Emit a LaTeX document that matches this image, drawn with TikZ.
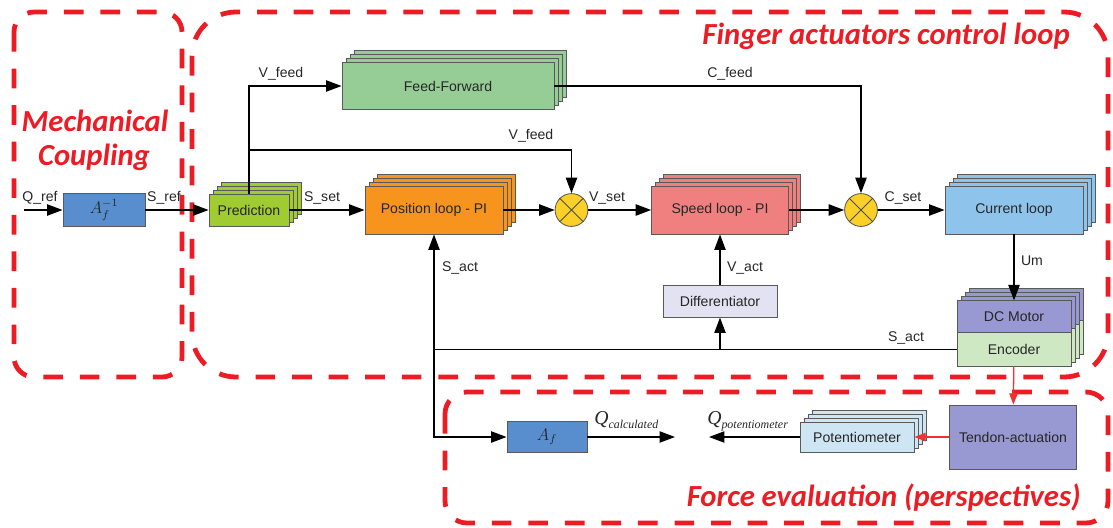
\documentclass[tikz,border=0pt]{standalone}
\usepackage{fontspec}
\setmainfont{Liberation Sans}
\newfontfamily\titlefont{Carlito}
\newfontfamily\timesfont{Liberation Serif}
\usepackage{xcolor}
\usetikzlibrary{positioning,shadows,arrows.meta}

\definecolor{loopred}{RGB}{237,28,36}
\definecolor{ablue}{RGB}{88,142,206}
\definecolor{predgreen}{RGB}{160,204,50}
\definecolor{posorange}{RGB}{247,148,30}
\definecolor{speedpink}{RGB}{240,128,128}
\definecolor{curblue}{RGB}{142,196,236}
\definecolor{ffgreen}{RGB}{150,205,150}
\definecolor{difflav}{RGB}{226,226,242}
\definecolor{motorpurple}{RGB}{152,152,210}
\definecolor{encgreen}{RGB}{206,232,196}
\definecolor{potblue}{RGB}{206,230,244}
\definecolor{sumyellow}{RGB}{250,208,40}
\definecolor{arrowred}{RGB}{238,50,50}

\tikzset{
  block/.style={draw=black!65, line width=0.6pt, inner sep=0pt, font=\fontsize{10}{12}\selectfont, text=black!85},
  stacked/.style={copy shadow={shadow xshift=0.3cm, shadow yshift=0.3cm},
                  copy shadow={shadow xshift=0.2cm, shadow yshift=0.2cm},
                  copy shadow={shadow xshift=0.1cm, shadow yshift=0.1cm}},
  summer/.style={circle, draw=black!65, line width=0.6pt, fill=sumyellow, minimum size=0.82cm, inner sep=0pt},
  signal/.style={line width=1.1pt, -{Triangle[length=11pt,width=8pt]}},
  siglabel/.style={font=\fontsize{10}{12}\selectfont, text=black!85, inner sep=0pt},
  zone/.style={draw=loopred, line width=3.4pt, dash pattern=on 14pt off 12pt},
  zonetitle/.style={text=loopred, font=\titlefont\bfseries\itshape\fontsize{21.8}{26}\selectfont, inner sep=0pt},
  redsig/.style={draw=arrowred, line width=0.9pt, -{Triangle[length=8pt,width=6pt]}}
}

\begin{document}
\begin{tikzpicture}[x=0.025cm, y=-0.025cm]
\useasboundingbox (0,0) rectangle (1113,527);

\draw[zone, rounded corners=0.5cm] (14,12) rectangle (182,377);
\draw[zone, rounded corners=1.1cm] (192,12) rectangle (1108,377);
\draw[zone, rounded corners=0.55cm] (445,392) rectangle (1108,523);

\node[zonetitle, anchor=base] (mechtitle) at (95,131) {Mechanical};
\node[zonetitle, anchor=base] (couptitle) at (94,165) {Coupling};
\node[zonetitle, anchor=base east] (fingertitle) at (1070,44) {Finger actuators control loop};
\node[zonetitle, anchor=base east] (forcetitle) at (1081,506) {Force evaluation (perspectives)};

\node[block, fill=ablue, minimum width=2.05cm, minimum height=0.83cm] (ainv) at (104,210)
  {\fontsize{12}{12}\selectfont $A_f^{-1}$};
\node[block, stacked, fill=predgreen, minimum width=2.0cm, minimum height=0.8cm] (pred) at (249,210) {Prediction};
\node[block, stacked, fill=ffgreen, minimum width=5.3cm, minimum height=1.18cm] (ff) at (448,86) {Feed-Forward};
\node[block, stacked, fill=posorange, minimum width=3.45cm, minimum height=1.2cm] (pos) at (434,210) {Position loop - PI};
\node[summer] (sum1) at (571.5,210) {};
\node[block, stacked, fill=speedpink, minimum width=3.42cm, minimum height=1.2cm] (speed) at (720,210) {Speed loop - PI};
\node[summer] (sum2) at (861,210) {};
\node[block, stacked, fill=curblue, minimum width=3.45cm, minimum height=1.2cm] (cur) at (1014,210) {Current loop};
\node[block, fill=difflav, minimum width=2.85cm, minimum height=0.78cm] (diff) at (720,301.5) {Differentiator};
\node[block, stacked, fill=encgreen, minimum width=2.85cm, minimum height=0.83cm] (enc) at (1014,349.5) {Encoder};
\node[block, stacked, fill=motorpurple, minimum width=2.85cm, minimum height=0.78cm, above=0pt of enc] (motor) {DC Motor};
\node[block, fill=motorpurple, minimum width=3.18cm, minimum height=1.6cm] (tendon) at (1013,437) {Tendon-actuation};
\node[block, stacked, fill=potblue, minimum width=2.85cm, minimum height=0.75cm] (pot) at (857,437) {Potentiometer};
\node[block, fill=ablue, minimum width=2.0cm, minimum height=0.78cm] (af) at (547,437)
  {\fontsize{12}{12}\selectfont $A_f$};

\draw[line width=0.6pt, black!70] (sum1.north west) -- (sum1.south east) (sum1.north east) -- (sum1.south west);
\draw[line width=0.6pt, black!70] (sum2.north west) -- (sum2.south east) (sum2.north east) -- (sum2.south west);

\coordinate (qin) at (24,210);
\coordinate (vf) at (249,150);
\coordinate (j1) at (720,349.5);
\coordinate (j2) at (434,349.5);
\coordinate (qc) at (675,437);
\coordinate (qp) at (709,437);

\draw[signal] (qin) -- (ainv);
\draw[signal] (ainv) -- (pred);
\draw[signal] (pred) -- (pos);
\draw[signal] (pred.north) |- (ff.west);
\draw[signal] (vf) -| (sum1.north);
\draw[signal] (ff.east) -| (sum2.north);
\draw[signal] (pos) -- (sum1);
\draw[signal] (sum1) -- (speed);
\draw[signal] (speed) -- (sum2);
\draw[signal] (sum2) -- (cur);
\draw[signal] (cur) -- (motor);
\draw[signal] (enc.west) -| (pos.south);
\draw[signal] (j1) -- (diff);
\draw[signal] (diff) -- (speed);
\draw[signal] (j2) |- (af.west);
\draw[signal] (af) -- (qc);
\draw[signal] (pot) -- (qp);
\draw[redsig] (enc) -- (tendon);
\draw[redsig] (tendon) -- (pot);

\node[siglabel] (qreflbl) at (40,198) {Q\_ref};
\node[siglabel] (sreflbl) at (164,198) {S\_ref};
\node[siglabel] (ssetlbl) at (322,198) {S\_set};
\node[siglabel] (vfeedlbl) at (281,74) {V\_feed};
\node[siglabel] (vfeedlbl2) at (531,136) {V\_feed};
\node[siglabel] (cfeedlbl) at (730,74) {C\_feed};
\node[siglabel] (vsetlbl) at (607,198) {V\_set};
\node[siglabel] (csetlbl) at (903,198) {C\_set};
\node[siglabel] (sactlbl) at (460,268) {S\_act};
\node[siglabel] (vactlbl) at (745,268) {V\_act};
\node[siglabel] (umlbl) at (1032,261) {Um};
\node[siglabel] (sactlbl2) at (906,338) {S\_act};
\node[siglabel, anchor=base west] (qcalclbl) at (594,424)
  {\timesfont\itshape\fontsize{14}{14}\selectfont Q\raisebox{-3pt}{\fontsize{8.5}{9}\selectfont calculated}};
\node[siglabel, anchor=base west] (qpotlbl) at (707,424)
  {\timesfont\itshape\fontsize{14}{14}\selectfont Q\raisebox{-3pt}{\fontsize{8.5}{9}\selectfont potentiometer}};
\end{tikzpicture}
\end{document}
